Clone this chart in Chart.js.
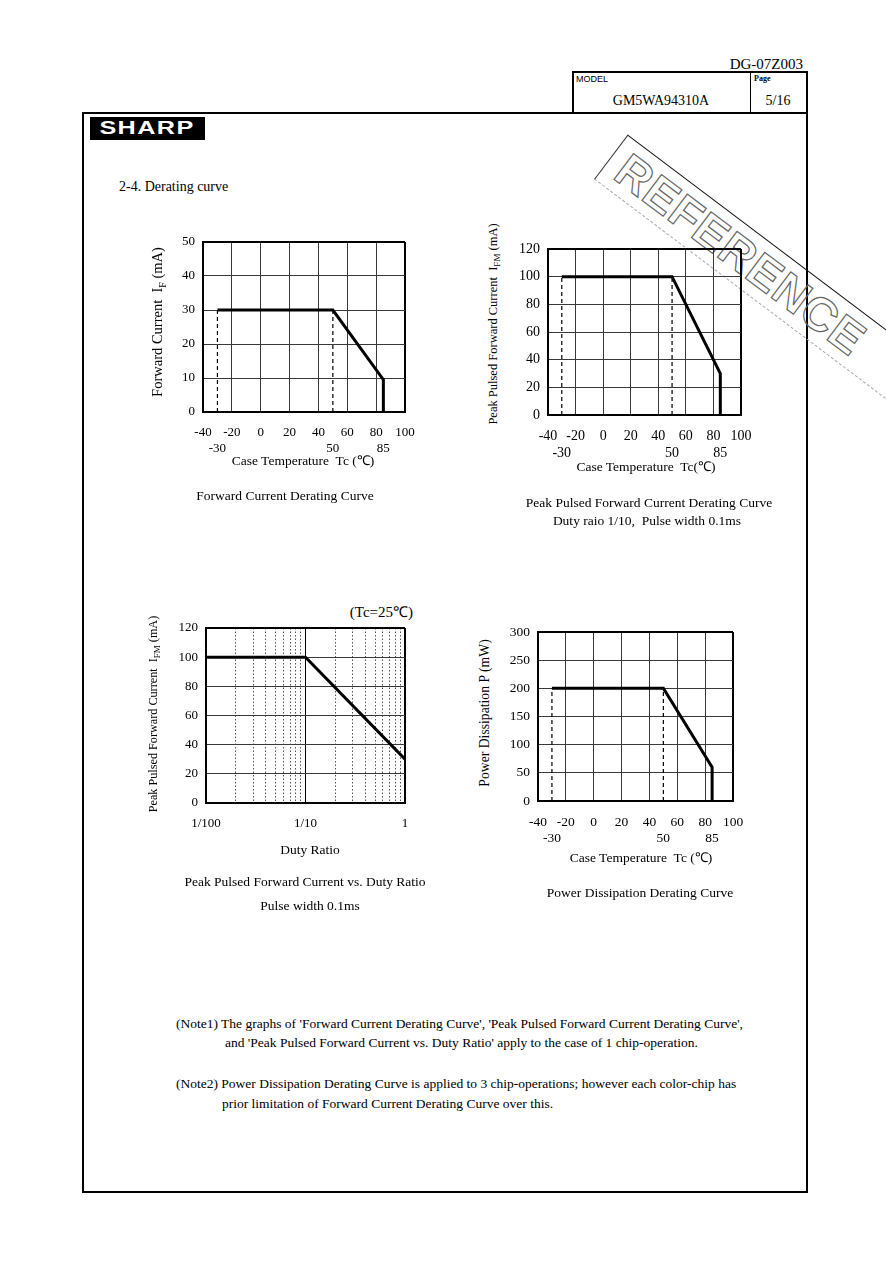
<!DOCTYPE html>
<html>
<head>
<meta charset="utf-8">
<script src="https://cdn.jsdelivr.net/npm/chart.js@4.4.0/dist/chart.umd.min.js"></script>
<style>
    body { margin: 0; background: #fff; }
    #page { position: relative; width: 886px; height: 1261px; overflow: hidden; font-family: 'Liberation Serif', 'Times New Roman', serif; color: #000; }
    .t { position: absolute; white-space: nowrap; font-size: 13.5px; line-height: 16px; }
    .c { transform: translate(-50%, -50%); }
    .l { transform: translateY(-50%); }
    .v { transform: translate(-50%, -50%) rotate(-90deg); }
    canvas { position: absolute; }
    #frame { position: absolute; left: 82px; top: 112px; width: 722px; height: 1077px; border: 2px solid #000; }
    #model { position: absolute; left: 572px; top: 71px; width: 232px; height: 40px; border: 2px solid #000; border-bottom: none; }
    #modelSplit { position: absolute; left: 750px; top: 72px; width: 0; height: 41px; border-left: 1.5px solid #000; }
    #logo { position: absolute; left: 90px; top: 117px; width: 115px; height: 23px; background: #000; }
    #logo span { position: absolute; left: 57px; top: 11px; transform: translate(-50%, -50%) scaleX(1.4); color: #fff; font: 900 18px 'Liberation Sans', Arial, sans-serif; letter-spacing: 1px; }
    .stamp { position: absolute; left: 577px; top: 230px; width: 420px; height: 56px; transform-origin: 168px 28px; transform: rotate(37deg); border-top: 1.2px solid #111; border-left: 1.2px solid #333; border-bottom: 1px dashed #aaa; box-sizing: border-box; font: bold 47px 'Liberation Sans', Arial, sans-serif; line-height: 54px; color: transparent; -webkit-text-stroke: 1.2px #666; padding-left: 12px; letter-spacing: 1px; }
</style>
</head>
<body>
<div id="page">
    <div class="t" style="right:83px; top:56px; font-size:15px;">DG-07Z003</div>
    <div id="model"></div>
    <div id="modelSplit"></div>
    <div class="t l" style="left:576px; top:79px; font:9px 'Liberation Sans', Arial, sans-serif;">MODEL</div>
    <div class="t l" style="left:754px; top:79px; font-size:8px; font-weight:bold;">Page</div>
    <div class="t c" style="left:661px; top:101px; font-size:14px;">GM5WA94310A</div>
    <div class="t c" style="left:778px; top:101px; font-size:14px;">5/16</div>
    <div id="frame"></div>
    <div id="logo"><span>SHARP</span></div>
    <div class="stamp">REFERENCE</div>

    <div class="t l" style="left:119px; top:187px; font-size:14px;">2-4. Derating curve</div>

    <!-- chart 1 -->
    <canvas id="chartIf" width="256" height="236" style="left:163px; top:232px;"></canvas>
    <div class="t v" style="left:160px; top:322px; font-size:14.5px;">Forward Current&nbsp; I<sub style="font-size:10px">F</sub> (mA)</div>
    <div class="t c" style="left:303px; top:461px;">Case Temperature&nbsp; Tc (℃)</div>
    <div class="t c" style="left:285px; top:496px;">Forward Current Derating Curve</div>

    <!-- chart 2 -->
    <canvas id="chartIfm" width="247" height="226" style="left:508px; top:239px;"></canvas>
    <div class="t v" style="left:495px; top:324px; font-size:12.5px;">Peak Pulsed Forward Current&nbsp; I<sub style="font-size:9px">FM</sub> (mA)</div>
    <div class="t c" style="left:646px; top:467px;">Case Temperature&nbsp; Tc(℃)</div>
    <div class="t c" style="left:649px; top:503px;">Peak Pulsed Forward Current Derating Curve</div>
    <div class="t c" style="left:647px; top:521px;">Duty raio 1/10,&nbsp; Pulse width 0.1ms</div>

    <!-- chart 3 -->
    <div class="t" style="right:473px; top:604px; font-size:15px;">(Tc=25℃)</div>
    <canvas id="chartDuty" width="259" height="225" style="left:166px; top:618px;"></canvas>
    <div class="t v" style="left:155px; top:714px; font-size:12.2px;">Peak Pulsed Forward Current&nbsp; I<sub style="font-size:9px">FM</sub> (mA)</div>
    <div class="t c" style="left:310px; top:850px;">Duty Ratio</div>
    <div class="t c" style="left:305px; top:882px;">Peak Pulsed Forward Current vs. Duty Ratio</div>
    <div class="t c" style="left:310px; top:906px;">Pulse width 0.1ms</div>

    <!-- chart 4 -->
    <canvas id="chartPd" width="249" height="229" style="left:498px; top:622px;"></canvas>
    <div class="t v" style="left:485px; top:713px; font-size:13.7px;">Power Dissipation P (mW)</div>
    <div class="t c" style="left:641px; top:858px;">Case Temperature&nbsp; Tc (℃)</div>
    <div class="t c" style="left:640px; top:893px;">Power Dissipation Derating Curve</div>

    <!-- notes -->
    <div class="t l" style="left:176px; top:1024px;">(Note1) The graphs of 'Forward Current Derating Curve', 'Peak Pulsed Forward Current Derating Curve',</div>
    <div class="t l" style="left:225px; top:1043px;">and 'Peak Pulsed Forward Current vs. Duty Ratio' apply to the case of 1 chip-operation.</div>
    <div class="t l" style="left:176px; top:1084px;">(Note2) Power Dissipation Derating Curve is applied to 3 chip-operations; however each color-chip has</div>
    <div class="t l" style="left:222px; top:1104px;">prior limitation of Forward Current Derating Curve over this.</div>
</div>

<script>
// start: data
const tempTicks = [-40, -20, 0, 20, 40, 60, 80, 100]
const tempMarks = [-30, 50, 85]      // second row of labels under the temperature axis
const guideTemps = [-30, 50]         // dashed guide lines

const ifTemp = [-30, 50, 85, 85]
const ifValues = [30, 30, 9.5, 0]

const ifmTemp = [-30, 50, 85, 85]
const ifmValues = [100, 100, 30, 0]

const pdTemp = [-30, 50, 85, 85]
const pdValues = [200, 200, 60, 0]

const dutyRatio = [0.01, 0.1, 1]
const dutyIfm = [100, 100, 30]
const dutyGrid = [0.01, 0.02, 0.03, 0.04, 0.05, 0.06, 0.07, 0.08, 0.09,
    0.1, 0.2, 0.3, 0.4, 0.5, 0.6, 0.7, 0.8, 0.9, 1]
const dutyLabels = ['1/100', '', '', '', '', '', '', '', '',
    '1/10', '', '', '', '', '', '', '', '', '1']
// end: data

Chart.defaults.font.family = "'Liberation Serif', 'Times New Roman', serif"
Chart.defaults.font.size = 13
Chart.defaults.color = '#000'

const GRID = '#3a3a3a'

// fixed axis boxes so the plot area lands where the page has it
function fixY(scale) {
    scale.width = 40
    scale.paddingTop = 0
    scale.paddingBottom = 0
}
function fixX(h) {
    return function (scale) {
        scale.height = h
        scale.paddingLeft = 0
        scale.paddingRight = 0
    }
}

function yAxis(max, step, fontSize, everyOther) {
    return {
        min: 0,
        max: max,
        ticks: {
            stepSize: step,
            padding: 8,
            font: { size: fontSize },
            callback: function (v) {
                if (everyOther && v % (step * 2) !== 0) return ''
                return v
            }
        },
        grid: {
            drawTicks: false,
            color: function (ctx) { return ctx.tick && ctx.tick.value === max ? '#000' : GRID },
            lineWidth: function (ctx) { return ctx.tick && ctx.tick.value === max ? 2 : 1 }
        },
        border: { color: '#000', width: 2 },
        afterFit: fixY
    }
}

function tempChart(id, temps, values, yMax, yStep, fontSize, xHeight) {
    const flat = values[0]
    const datasets = [{
        data: temps.map(function (t, i) { return { x: t, y: values[i] } }),
        borderColor: '#000',
        borderWidth: 3,
        pointRadius: 0,
        tension: 0
    }]
    guideTemps.forEach(function (t) {
        datasets.push({
            data: [{ x: t, y: 0 }, { x: t, y: flat }],
            borderColor: '#000',
            borderWidth: 1.2,
            borderDash: [4, 3],
            pointRadius: 0
        })
    })
    new Chart(document.getElementById(id), {
        type: 'line',
        data: { datasets: datasets },
        options: {
            responsive: false,
            animation: false,
            layout: { padding: { top: 10, right: 14, left: 0, bottom: 0 } },
            plugins: { legend: { display: false }, tooltip: { enabled: false } },
            scales: {
                x: {
                    type: 'linear',
                    min: -40,
                    max: 100,
                    afterBuildTicks: function (scale) {
                        scale.ticks = tempTicks.concat(tempMarks)
                            .sort(function (a, b) { return a - b })
                            .map(function (v) { return { value: v } })
                    },
                    ticks: {
                        autoSkip: false,
                        maxRotation: 0,
                        minRotation: 0,
                        padding: 13,
                        font: { size: fontSize },
                        callback: function (v) {
                            return tempMarks.includes(v) ? ['', String(v)] : String(v)
                        }
                    },
                    grid: {
                        drawTicks: false,
                        color: function (ctx) {
                            if (ctx.tick && tempMarks.includes(ctx.tick.value)) return 'rgba(0,0,0,0)'
                            return ctx.tick && ctx.tick.value === 100 ? '#000' : GRID
                        },
                        lineWidth: function (ctx) { return ctx.tick && ctx.tick.value === 100 ? 2 : 1 }
                    },
                    border: { color: '#000', width: 2 },
                    afterFit: fixX(xHeight)
                },
                y: yAxis(yMax, yStep, fontSize, false)
            }
        }
    });
}

tempChart('chartIf', ifTemp, ifValues, 50, 10, 13, 56)
tempChart('chartIfm', ifmTemp, ifmValues, 120, 20, 14, 50)
tempChart('chartPd', pdTemp, pdValues, 300, 50, 13.5, 50)

// start: duty ratio chart
new Chart(document.getElementById('chartDuty'), {
    type: 'line',
    data: {
        datasets: [{
            data: dutyRatio.map(function (d, i) { return { x: d, y: dutyIfm[i] } }),
            borderColor: '#000',
            borderWidth: 3,
            pointRadius: 0,
            tension: 0
        }]
    },
    options: {
        responsive: false,
        animation: false,
        layout: { padding: { top: 10, right: 20, left: 0, bottom: 0 } },
        plugins: { legend: { display: false }, tooltip: { enabled: false } },
        scales: {
            x: {
                type: 'logarithmic',
                min: 0.01,
                max: 1,
                afterBuildTicks: function (scale) {
                    scale.ticks = dutyGrid.map(function (v) { return { value: v } })
                },
                ticks: {
                    autoSkip: false,
                    maxRotation: 0,
                    minRotation: 0,
                    padding: 13,
                    callback: function (v, i) { return dutyLabels[i] }
                },
                grid: {
                    drawTicks: false,
                    color: function (ctx) { return ctx.tick && dutyLabels[ctx.index] ? '#000' : '#555' },
                    lineWidth: function (ctx) { return ctx.tick && ctx.tick.value === 1 ? 2 : 1 }
                },
                border: {
                    color: '#000',
                    width: 2,
                    dash: function (ctx) { return ctx.tick && !dutyLabels[ctx.index] ? [1.5, 2] : [] }
                },
                afterFit: fixX(40)
            },
            y: yAxis(120, 10, 13, true)
        }
    }
});
// end: duty ratio chart
</script>
</body>
</html>
